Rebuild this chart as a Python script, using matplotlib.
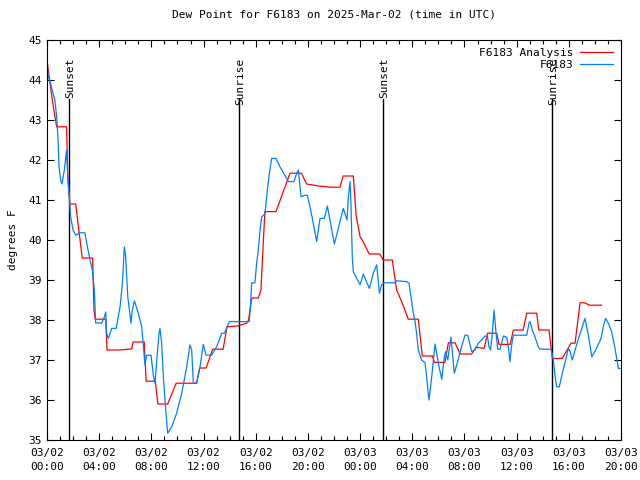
import matplotlib
matplotlib.use('Agg')
import matplotlib.pyplot as plt
import numpy as np

# hours since 2025-03-02 00:00 UTC
ana_h = [0.0, 0.2, 0.45, 0.74, 1.5, 1.6, 1.76, 2.2, 2.7, 3.5, 3.6, 3.7, 4.5, 4.6, 5.6, 6.5, 6.6, 7.45, 7.6, 8.3, 8.5, 9.25,
         9.9, 11.47, 11.7, 12.2, 12.7, 13.5, 13.8, 14.6, 15.3, 15.45, 15.7, 16.2, 16.4, 16.55, 16.7, 17.55, 18.63, 19.5,
         19.9, 20.8, 21.8, 22.46, 22.7, 23.48, 23.7, 24.0, 24.2, 24.7, 25.5, 25.78, 26.47, 26.8, 27.2, 27.7, 28.46, 28.77,
         29.54, 29.7, 30.5, 30.77, 31.28, 31.66, 32.55, 32.9, 33.5, 33.78, 34.47, 34.65, 35.5, 35.75, 36.5, 36.77, 37.54,
         37.7, 38.48, 38.74, 39.5, 40.17, 40.48, 40.86, 41.2, 41.6, 42.5]
ana_v = [44.5, 44.0, 43.4, 42.83, 42.83, 41.5, 40.9, 40.9, 39.55, 39.55, 38.25, 38.02, 38.02, 37.25, 37.25, 37.28, 37.45,
         37.45, 36.47, 36.47, 35.9, 35.9, 36.42, 36.42, 36.8, 36.8, 37.27, 37.27, 37.83, 37.85, 37.92, 38.0, 38.55, 38.55,
         38.75, 39.75, 40.71, 40.71, 41.67, 41.67, 41.4, 41.35, 41.32, 41.32, 41.6, 41.6, 40.6, 40.08, 39.98, 39.65, 39.65,
         39.5, 39.5, 38.75, 38.45, 38.02, 38.02, 37.1, 37.1, 36.94, 36.94, 37.43, 37.43, 37.15, 37.15, 37.32, 37.29, 37.67,
         37.67, 37.39, 37.39, 37.75, 37.75, 38.17, 38.17, 37.75, 37.75, 37.04, 37.04, 37.42, 37.42, 38.43, 38.43, 38.37,
         38.37]

obs_h = [0.0, 0.08, 0.3, 0.6, 0.74, 0.85, 0.92, 1.07, 1.15, 1.33, 1.46, 1.5, 1.58, 1.69, 1.81, 2.0, 2.2, 2.53, 2.9, 3.1,
         3.3, 3.47, 3.63, 3.73, 4.19, 4.4, 4.5, 4.57, 4.7, 4.96, 5.3, 5.6, 5.78, 5.93, 6.03, 6.19, 6.44, 6.54, 6.7, 7.0,
         7.26, 7.41, 7.51, 7.64, 7.97, 8.15, 8.28, 8.41, 8.59, 8.66, 8.79, 8.92, 9.1, 9.25, 9.56, 9.94, 10.33, 10.71,
         10.96, 11.09, 11.22, 11.47, 11.73, 11.98, 12.19, 12.62, 13.0, 13.4, 13.6, 13.98, 15.5, 15.61, 15.69, 15.94,
         16.07, 16.2, 16.33, 16.46, 16.71, 16.89, 17.05, 17.22, 17.55, 17.86, 18.17, 18.5, 18.93, 19.14, 19.27, 19.47,
         19.78, 19.95, 20.16, 20.41, 20.67, 20.93, 21.26, 21.49, 21.69, 22.03, 22.46, 22.71, 22.92, 23.0, 23.1, 23.23,
         23.3, 23.4, 23.48, 23.74, 24.0, 24.25, 24.43, 24.71, 25.02, 25.27, 25.38, 25.48, 25.65, 25.86, 26.68, 26.8,
         27.57, 27.75, 27.9, 28.08, 28.2, 28.33, 28.46, 28.72, 28.98, 29.1, 29.28, 29.49, 29.74, 29.87, 30.05, 30.26,
         30.46, 30.56, 30.72, 30.97, 31.22, 31.48, 31.74, 32.04, 32.25, 32.55, 32.81, 33.06, 33.32, 33.58, 33.76, 33.88,
         34.0, 34.14, 34.27, 34.4, 34.55, 34.73, 34.98, 35.24, 35.36, 35.49, 35.6, 35.74, 36.77, 36.95, 37.03, 37.2,
         37.36, 37.66, 37.79, 38.64, 38.81, 38.94, 39.07, 39.27, 39.5, 39.76, 39.96, 40.1, 40.27, 40.48, 40.78, 41.04,
         41.24, 41.5, 41.76, 42.0, 42.27, 42.47, 42.65, 42.82, 43.03, 43.28, 43.54, 43.8, 44.0]
obs_v = [44.4, 44.12, 43.87, 43.5, 43.08, 42.5, 41.83, 41.46, 41.4, 41.75, 42.12, 42.25, 41.67, 41.17, 40.58, 40.25,
         40.12, 40.18, 40.18, 39.83, 39.5, 39.25, 38.75, 37.93, 37.92, 38.08, 38.2, 37.67, 37.54, 37.79, 37.79, 38.33,
         38.92, 39.83, 39.58, 38.58, 37.92, 38.25, 38.48, 38.17, 37.83, 37.25, 36.88, 37.12, 37.12, 36.62, 36.42, 37.0,
         37.67, 37.79, 37.42, 36.58, 35.75, 35.17, 35.33, 35.67, 36.17, 36.83, 37.38, 37.25, 36.42, 36.42, 36.83, 37.39,
         37.12, 37.12, 37.33, 37.67, 37.67, 37.96, 37.96, 38.42, 38.93, 38.93, 39.42, 39.75, 40.25, 40.58, 40.65, 41.25,
         41.67, 42.04, 42.04, 41.83, 41.65, 41.46, 41.46, 41.67, 41.75, 41.08, 41.12, 41.12, 40.83, 40.42, 39.96, 40.54,
         40.54, 40.85, 40.5, 39.9, 40.46, 40.79, 40.58, 40.5, 41.08, 41.46, 40.92, 39.58, 39.21, 39.04, 38.88, 39.15,
         39.0, 38.79, 39.17, 39.38, 39.0, 38.67, 38.88, 38.93, 38.93, 38.98, 38.96, 38.92, 38.58, 38.17, 38.0, 37.67,
         37.25, 37.0, 36.93, 36.58, 36.0, 36.58, 37.4, 37.17, 36.83, 36.52, 37.08, 37.21, 37.0, 37.57, 36.67, 36.96,
         37.29, 37.62, 37.62, 37.21, 37.25, 37.42, 37.5, 37.6, 37.6, 37.33, 37.25, 37.67, 38.25, 37.75, 37.27, 37.27,
         37.6, 37.57, 37.33, 36.96, 37.33, 37.62, 37.62, 37.92, 37.96, 37.75, 37.62, 37.33, 37.27, 37.27, 37.0, 36.62,
         36.33, 36.33, 36.67, 37.0, 37.29, 37.21, 37.0, 37.25, 37.58, 37.83, 38.04, 37.62, 37.08, 37.21, 37.4, 37.54,
         37.85, 38.04, 37.92, 37.71, 37.29, 36.79, 36.79]

sun_h = [1.69, 14.72, 25.76, 38.71]
sun_lbl = ['Sunset', 'Sunrise', 'Sunset', 'Sunrise']

tick_h = np.arange(0, 45, 4)
tick_lbl = ['03/02\n00:00', '03/02\n04:00', '03/02\n08:00', '03/02\n12:00', '03/02\n16:00', '03/02\n20:00',
            '03/03\n00:00', '03/03\n04:00', '03/03\n08:00', '03/03\n12:00', '03/03\n16:00', '03/03\n20:00']

plt.rcParams['font.family'] = ['DejaVu Sans Mono']
plt.rcParams['font.size'] = 8

fig = plt.figure(figsize=(6.4, 4.8), dpi=100)
ax = fig.add_axes([47/640, 40/480, 574/640, 400/480])

for h, s in zip(sun_h, sun_lbl):
    ax.plot([h, h], [35, 43.53], color='black', lw=1.0)
    ax.text(h + 0.08, 44.55, s, rotation=90, ha='center', va='top', fontsize=8)

ax.plot(ana_h, ana_v, color='#ff0000', lw=0.9, label='F6183 Analysis')
ax.plot(obs_h, obs_v, color='#0080ff', lw=0.9, label='F6183')

ax.set_xlim(0, 44)
ax.set_ylim(35, 45)
ax.set_xticks(tick_h)
ax.set_xticklabels(tick_lbl, linespacing=1.5)
ax.set_xticks(np.arange(0, 45, 1), minor=True)
ax.set_yticks(np.arange(35, 46, 1))
ax.tick_params(direction='in', top=True, right=True, length=5, width=0.8, labelsize=8)
ax.tick_params(which='minor', direction='in', top=True, right=True, length=3, width=0.8)
ax.tick_params(axis='x', pad=6)

ax.set_title('Dew Point for F6183 on 2025-Mar-02 (time in UTC)', fontsize=8, pad=16)
ax.set_ylabel('degrees F', fontsize=8, labelpad=8)

leg = ax.legend(loc='upper right', frameon=False, markerfirst=False, fontsize=8,
                handlelength=3.0, borderaxespad=0.3, labelspacing=0.2, handletextpad=0.6)
for t in leg.get_texts():
    t.set_ha('right')

fig.savefig('out.png', dpi=100)
